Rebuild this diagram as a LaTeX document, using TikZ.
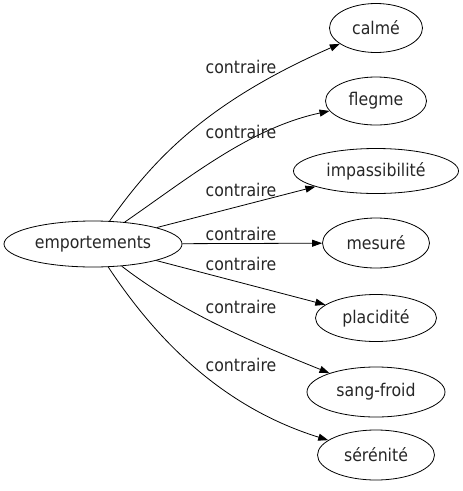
\documentclass[tikz,border=0pt]{standalone}
\usepackage{fontspec}
\setmainfont{DejaVu Sans Condensed}
\usetikzlibrary{shapes.geometric,arrows.meta}
\begin{document}
\begin{tikzpicture}[x=1pt,y=-1pt,
  every node/.style={font=\fontsize{17.5}{20}\selectfont, text=black!85},
  term/.style={draw, ellipse, inner sep=0pt, line width=0.8pt},
  rel/.style={inner sep=0pt},
  link/.style={draw, line width=0.8pt, -{Triangle[length=10pt,width=7pt]}}]
\useasboundingbox (0,0) rectangle (463,491);
\node[term, minimum width=178, minimum height=46] (E) at (93,244) {emportements};
\node[term, minimum width=93, minimum height=49] (A) at (376,28) {calmé};
\node[term, minimum width=101, minimum height=48] (B) at (376,101) {flegme};
\node[term, minimum width=165, minimum height=45] (C) at (376,171) {impassibilité};
\node[term, minimum width=107, minimum height=50] (D) at (376,243) {mesuré};
\node[term, minimum width=121, minimum height=47] (F) at (376,318) {placidité};
\node[term, minimum width=138, minimum height=50] (G) at (376,392) {sang-froid};
\node[term, minimum width=117, minimum height=50] (H) at (376,455) {sérénité};
\path[link] (E) .. controls (150,165) and (200,105) .. (A);
\path[link] (E) .. controls (190,177) and (250,128) .. (B);
\path[link] (E) -- (C);
\path[link] (E) -- (D);
\path[link] (E) -- (F);
\path[link] (E) .. controls (185,315) and (260,345) .. (G);
\path[link] (E) .. controls (150,330) and (215,405) .. (H);
\node[rel] (l1) at (241,67) {contraire};
\node[rel] (l2) at (241,132) {contraire};
\node[rel] (l3) at (241,190) {contraire};
\node[rel] (l4) at (241,234) {contraire};
\node[rel] (l5) at (241,264) {contraire};
\node[rel] (l6) at (241,307) {contraire};
\node[rel] (l7) at (241,365) {contraire};
\end{tikzpicture}
\end{document}
